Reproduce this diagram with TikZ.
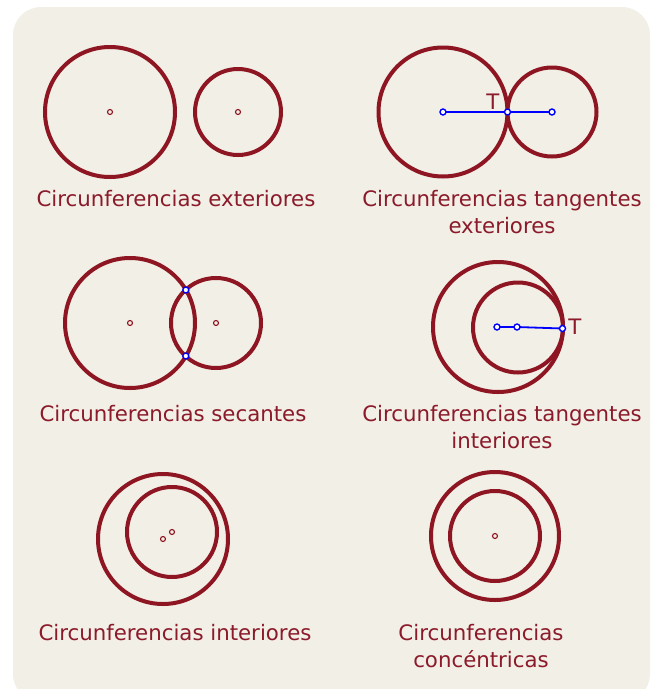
\documentclass[tikz,border=0pt]{standalone}
\usepackage{fontspec}
\setmainfont{DejaVu Sans}
\usetikzlibrary{positioning}
\definecolor{paper}{HTML}{F2EFE6}
\definecolor{wine}{HTML}{8E1522}
\definecolor{winetext}{HTML}{8B1A2A}
\tikzset{
  ring/.style={draw=wine, line width=4pt},
  cdot/.style={circle, draw=wine, fill=paper, line width=1.1pt, inner sep=0pt,
               minimum size=5pt},
  bdot/.style={circle, draw=blue, fill=white, line width=1.4pt, inner sep=0pt,
               minimum size=6pt},
  seg/.style={draw=blue, line width=1.8pt},
  caption/.style={text=winetext, font=\fontsize{21.3}{27}\selectfont, align=center,
                  inner sep=0pt, anchor=base},
}

\begin{document}
\begin{tikzpicture}[x=1pt, y=-1pt]
  \useasboundingbox (0,0) rectangle (658,689);
  \clip (0,0) rectangle (658,689);
  \fill[paper, rounded corners=28pt] (13,7) rectangle (650,702);

  % exteriores
  \draw[ring] (110,112) circle[radius=65];
  \draw[ring] (238,112) circle[radius=43];
  \node[cdot] (exta) at (110,112) {};
  \node[cdot] (extb) at (238,112) {};
  \node[caption] (lblext) at (176,206) {Circunferencias exteriores};

  % tangentes exteriores
  \draw[ring] (443,112) circle[radius=64.5];
  \draw[ring] (552,112) circle[radius=44.5];
  \coordinate (tea) at (443,112);
  \coordinate (tet) at (507.5,112);
  \coordinate (teb) at (552,112);
  \draw[seg] (tea) -- (tet) -- (teb);
  \node[bdot] (teadot) at (tea) {};
  \node[bdot] (tetdot) at (tet) {};
  \node[bdot] (tebdot) at (teb) {};
  \node[caption, anchor=center] (tlabe) at (493,102) {T};
  \node[caption] (lbltext) at (502,233) {Circunferencias tangentes\\exteriores};

  % secantes
  \draw[ring] (130,323) circle[radius=65];
  \draw[ring] (216,323) circle[radius=45];
  \node[cdot] (seca) at (130,323) {};
  \node[cdot] (secb) at (216,323) {};
  \node[bdot] (secup) at (185.8,290) {};
  \node[bdot] (secdn) at (185.8,356) {};
  \node[caption] (lblsec) at (173,421) {Circunferencias secantes};

  % tangentes interiores
  \draw[ring] (498,327) circle[radius=65];
  \draw[ring] (518,327.5) circle[radius=45];
  \coordinate (tia) at (497,327);
  \coordinate (tib) at (517,327);
  \coordinate (tit) at (562.5,328.5);
  \draw[seg] (tia) -- (tib) -- (tit);
  \node[bdot] (tiadot) at (tia) {};
  \node[bdot] (tibdot) at (tib) {};
  \node[bdot] (titdot) at (tit) {};
  \node[caption, anchor=center] (tlabi) at (575,327) {T};
  \node[caption] (lbltint) at (502,448) {Circunferencias tangentes\\interiores};

  % interiores
  \draw[ring] (163,539) circle[radius=65];
  \draw[ring] (172,532) circle[radius=45];
  \node[cdot] (inta) at (163,539) {};
  \node[cdot] (intb) at (172,532) {};
  \node[caption] (lblint) at (175,640) {Circunferencias interiores};

  % concentricas
  \draw[ring] (495,536) circle[radius=64];
  \draw[ring] (495,536) circle[radius=45];
  \node[cdot] (conc) at (495,536) {};
  \node[caption] (lblcon) at (481,667) {Circunferencias\\concéntricas};
\end{tikzpicture}
\end{document}
